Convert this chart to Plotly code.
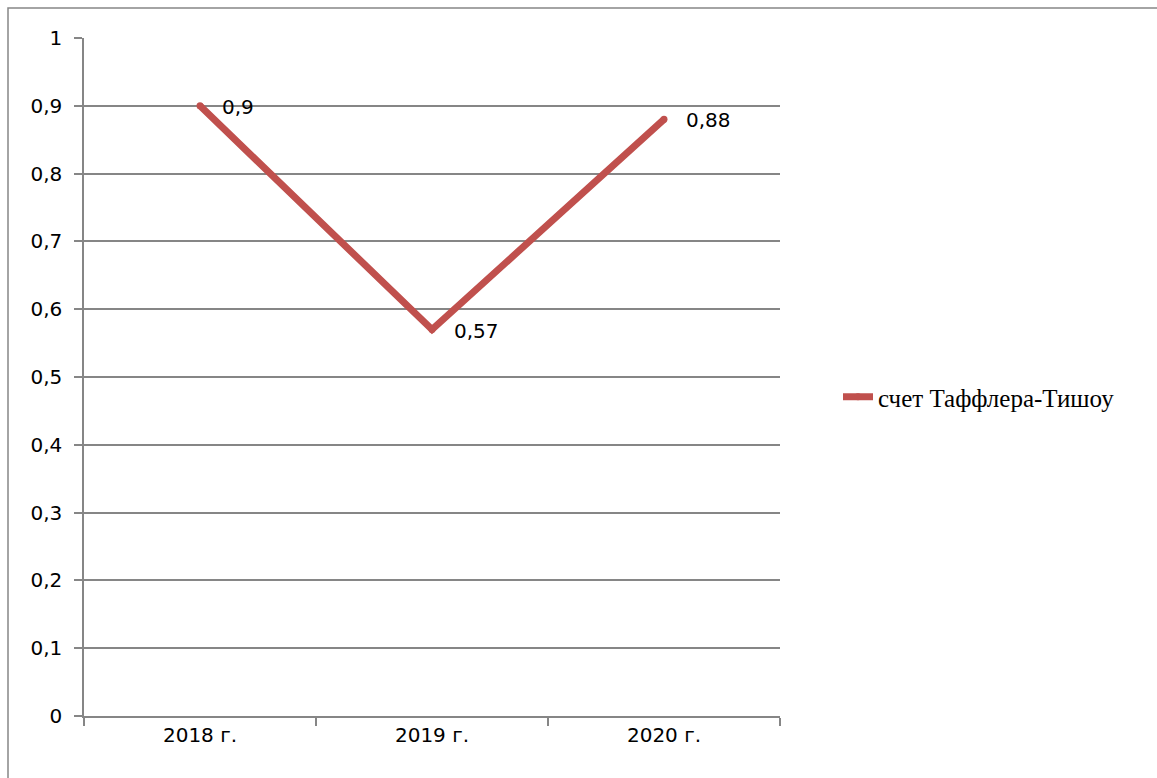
import plotly.graph_objects as go

# Score values by year
years = ["2018 г.", "2019 г.", "2020 г."]
scores = [0.9, 0.57, 0.88]
series_name = "счет Таффлера-Тишоу"

y_ticks = [0, 0.1, 0.2, 0.3, 0.4, 0.5, 0.6, 0.7, 0.8, 0.9, 1]
y_tick_text = ["0", "0,1", "0,2", "0,3", "0,4", "0,5", "0,6", "0,7", "0,8", "0,9", "1"]

LINE_COLOR = "#C0504D"
GRID_COLOR = "#868686"
AXIS_FONT = dict(family="DejaVu Sans", size=20, color="#000000")

W, H = 1157, 778
L, R, T, B = 84, 377, 38, 62
plot_w = W - L - R
plot_h = H - T - B

fig = go.Figure()
fig.add_trace(go.Scatter(
    x=years,
    y=scores,
    mode="lines+markers",
    name=series_name,
    line=dict(color=LINE_COLOR, width=7),
    marker=dict(color=LINE_COLOR, size=7, line=dict(width=0)),
    showlegend=True,
))

# value labels beside each point
for yr, v in zip(years, scores):
    fig.add_annotation(
        x=yr, y=v, xref="x", yref="y",
        text=str(v).replace(".", ","),
        showarrow=False, xanchor="left", yanchor="middle",
        xshift=20, yshift=-1,
        font=AXIS_FONT,
    )

# outer chart frame
fig.add_shape(
    type="rect", xref="paper", yref="paper",
    x0=(8 - L) / plot_w, x1=(W + 20 - L) / plot_w,
    y0=-(H + 20 - T - plot_h) / plot_h, y1=1 + (T - 8) / plot_h,
    line=dict(color=GRID_COLOR, width=1.5),
    fillcolor="rgba(0,0,0,0)",
    layer="below",
)

fig.update_layout(
    width=W, height=H,
    margin=dict(l=L, r=R, t=T, b=B, pad=0),
    paper_bgcolor="white", plot_bgcolor="white",
    separators=", ",
    legend=dict(
        x=(838 - L) / plot_w, y=(H - B - 397) / plot_h,
        xanchor="left", yanchor="middle",
        font=dict(family="Liberation Serif", size=25, color="#000000"),
        itemwidth=30,
        bgcolor="rgba(0,0,0,0)",
    ),
    xaxis=dict(
        type="category",
        range=[-0.5, 2.5],
        showgrid=False,
        showline=True, linecolor=GRID_COLOR, linewidth=1.5,
        ticks="outside", tickson="boundaries", ticklen=8,
        tickcolor=GRID_COLOR, tickwidth=1.5,
        tickfont=AXIS_FONT,
        fixedrange=True,
    ),
    yaxis=dict(
        range=[0, 1],
        tickvals=y_ticks, ticktext=y_tick_text,
        showgrid=True, gridcolor=GRID_COLOR, gridwidth=1.5,
        zeroline=False,
        showline=True, linecolor=GRID_COLOR, linewidth=1.5,
        ticks="outside", ticklen=8, tickcolor=GRID_COLOR, tickwidth=1.5,
        tickfont=AXIS_FONT,
        ticklabelstandoff=8,
        fixedrange=True,
    ),
)

fig.write_html("out.html")
